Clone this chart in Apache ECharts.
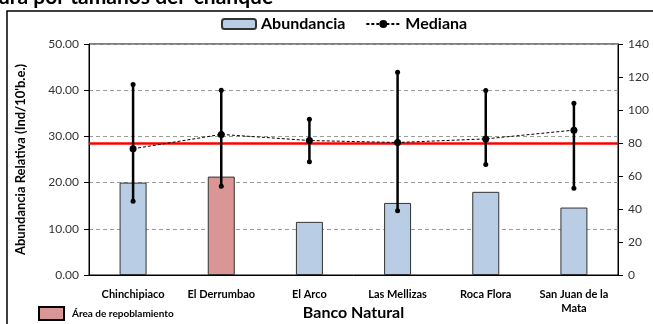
<!DOCTYPE html>
<html>
<head>
<meta charset="utf-8">
<script src="https://cdn.jsdelivr.net/npm/echarts@6/dist/echarts.min.js"></script>
<style>
  html, body { margin: 0; padding: 0; background: #fff; }
  #main { width: 653px; height: 324px; }
</style>
</head>
<body>
<div id="main"></div>
<script>
var bancos = ['Chinchipiaco', 'El Derrumbao', 'El Arco', 'Las Mellizas', 'Roca Flora', 'San Juan de la\nMata'];
var abundancia = [20.0, 21.3, 11.5, 15.6, 18.0, 14.6];
var mediana = [76.5, 85.2, 81.5, 80.3, 82.5, 87.8];
var minimo = [44.7, 53.8, 68.6, 38.9, 67.0, 52.6];
var maximo = [115.5, 112.0, 94.4, 122.9, 111.8, 104.1];
var repoblamiento = 'El Derrumbao';
var referencia = 80;
var ticksIzq = [0, 50, 10];
var ticksDer = [0, 140, 20];

var fuente = 'Lato, "Open Sans", sans-serif';
var myChart = echarts.init(document.getElementById('main'));

var barData = abundancia.map(function (v, i) {
  if (bancos[i] == repoblamiento) {
    return { value: v, itemStyle: { color: '#D99694' } };
  }
  return v;
});
var errData = bancos.map(function (b, i) { return [i, minimo[i], maximo[i]]; });

var option = {
  animation: false,
  textStyle: { fontFamily: fuente },
  grid: { left: 89, right: 35, top: 44, bottom: 49, show: true, borderColor: '#000', borderWidth: 1, containLabel: false, outerBoundsMode: 'none' },
  legend: {
    data: ['Abundancia', 'Mediana'],
    left: 216, top: 11,
    itemWidth: 34, itemHeight: 10, itemGap: 20,
    textStyle: { fontFamily: fuente, fontWeight: 'bold', fontSize: 16, color: '#000' }
  },
  graphic: [
    { type: 'rect', shape: { x: 7, y: 11, width: 700, height: 400 }, style: { fill: 'none', stroke: '#000', lineWidth: 1.5 }, silent: true },
    { type: 'text', x: -2, y: 8, style: { text: 'ura por tamaños del  chanque', font: 'bold 21px ' + fuente, fill: '#000', textVerticalAlign: 'bottom' } },
    { type: 'rect', shape: { x: 39, y: 307, width: 25, height: 13 }, style: { fill: '#D99694', stroke: '#000', lineWidth: 2 } },
    { type: 'text', x: 72, y: 314, style: { text: 'Área de repoblamiento', font: 'bold 10px ' + fuente, fill: '#000', textVerticalAlign: 'middle' } }
  ],
  xAxis: {
    type: 'category',
    data: bancos,
    name: 'Banco Natural',
    nameLocation: 'middle',
    nameGap: 30,
    nameMoveOverlap: false,
    nameTextStyle: { fontWeight: 'bold', fontSize: 16, color: '#000' },
    axisLine: { lineStyle: { color: '#000', width: 1 } },
    axisTick: { alignWithLabel: true, length: 4, lineStyle: { color: '#000' } },
    axisLabel: { interval: 0, fontWeight: 'bold', fontSize: 11, color: '#000', margin: 12, lineHeight: 14 }
  },
  yAxis: [
    {
      type: 'value', min: ticksIzq[0], max: ticksIzq[1], interval: ticksIzq[2],
      name: "Abundancia Relativa (Ind/10'b.e.)",
      nameLocation: 'middle', nameGap: 62,
      nameMoveOverlap: false,
      nameTextStyle: { fontWeight: 'bold', fontSize: 13, color: '#000' },
      axisLine: { show: true, lineStyle: { color: '#000' } },
      axisTick: { show: true, length: 5, lineStyle: { color: '#000' } },
      axisLabel: { fontSize: 12, color: '#333', margin: 10, formatter: function (v) { return v.toFixed(2); } },
      splitLine: { show: true, lineStyle: { color: '#9a9a9a', type: [4, 3] } }
    },
    {
      type: 'value', min: ticksDer[0], max: ticksDer[1], interval: ticksDer[2],
      axisLine: { show: true, lineStyle: { color: '#000' } },
      axisTick: { show: true, length: 5, lineStyle: { color: '#000' } },
      axisLabel: { fontSize: 12, color: '#333', margin: 10 },
      splitLine: { show: false }
    }
  ],
  series: [
    {
      name: 'Abundancia',
      type: 'bar',
      barWidth: 27,
      itemStyle: { color: '#B9CDE5', borderColor: '#333', borderWidth: 1 },
      data: barData
    },
    {
      name: 'errores',
      type: 'custom',
      yAxisIndex: 1,
      z: 5,
      renderItem: function (params, api) {
        var lo = api.coord([api.value(0), api.value(1)]);
        var hi = api.coord([api.value(0), api.value(2)]);
        return {
          type: 'group',
          children: [
            { type: 'line', shape: { x1: lo[0], y1: lo[1], x2: hi[0], y2: hi[1] }, style: { stroke: '#000', lineWidth: 2.5 } },
            { type: 'circle', shape: { cx: lo[0], cy: lo[1], r: 2.5 }, style: { fill: '#000' } },
            { type: 'circle', shape: { cx: hi[0], cy: hi[1], r: 2.5 }, style: { fill: '#000' } }
          ]
        };
      },
      data: errData
    },
    {
      name: 'Mediana',
      type: 'line',
      yAxisIndex: 1,
      z: 6,
      symbol: 'circle',
      symbolSize: 7,
      itemStyle: { color: '#000' },
      lineStyle: { color: '#000', width: 1, type: [3, 2] },
      data: mediana,
      markLine: {
        silent: true,
        symbol: 'none',
        label: { show: false },
        lineStyle: { color: '#ff0000', width: 2.5, type: 'solid' },
        data: [{ yAxis: referencia }]
      }
    }
  ]
};
myChart.setOption(option);
</script>
</body>
</html>
